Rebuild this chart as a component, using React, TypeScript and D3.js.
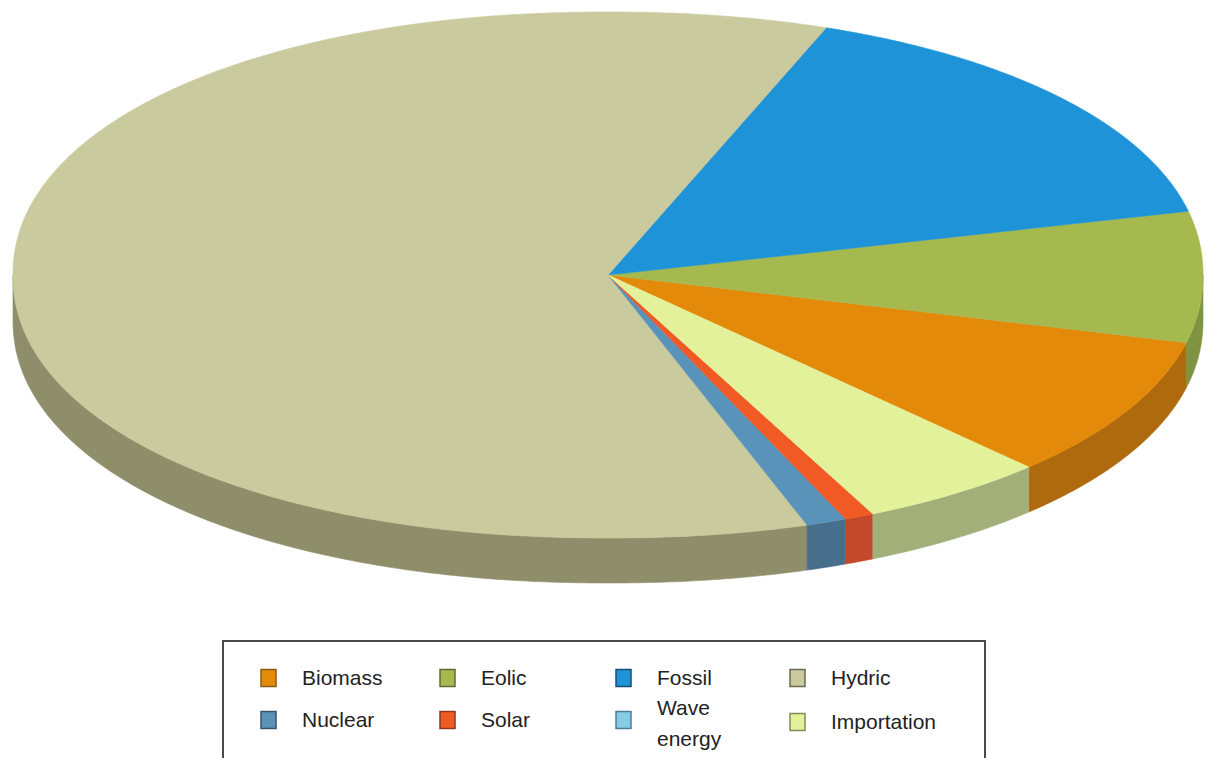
import React from "react";
import * as d3 from "d3";

const categories = ["Biomass", "Eolic", "Fossil", "Hydric", "Nuclear", "Solar", "Wave energy", "Importation"];
const shares = [8.9, 7.5, 15.7, 60.8, 1.1, 0.8, 0.0, 5.2];
const topColors = ["#E48A0A", "#A6B94E", "#1E93D7", "#C9CA9E", "#5A93B9", "#F15A24", "#86CDE4", "#E3F19A"];
const sideColors = ["#B06A0E", "#7F9342", "#1670A5", "#8E8E6A", "#476F8C", "#C4492A", "#5F9DB0", "#A3AF78"];
const swatchBorders = ["#8a5a1a", "#5f6b35", "#1a4f75", "#6b6b50", "#38536a", "#8a3a20", "#4f7f8f", "#7f8a55"];
const legendRows = [
  ["Biomass", "Eolic", "Fossil", "Hydric"],
  ["Nuclear", "Solar", "Wave energy", "Importation"],
];

const W = 1208;
const H = 758;
const cx = 608;
const cy = 275;
const rx = 595;
const ry = 263;
const depth = 45;
const shapeN = 2.1;
const deg = Math.PI / 180;

function pt(theta: number, dy = 0): [number, number] {
  const c = Math.cos(theta);
  const s = Math.sin(theta);
  const e = 2 / shapeN;
  return [cx + rx * Math.sign(c) * Math.pow(Math.abs(c), e), cy + dy + ry * Math.sign(s) * Math.pow(Math.abs(s), e)];
}

function arcPts(lo: number, hi: number, dy = 0): [number, number][] {
  const n = Math.max(2, Math.ceil((hi - lo) / (0.5 * deg)));
  return d3.range(n + 1).map((k) => pt(lo + ((hi - lo) * k) / n, dy));
}

const line = d3.line<[number, number]>();

export default function App() {
  // d3.pie angles: 0 at 12 o'clock, clockwise. Slices run counter-clockwise from the Biomass start.
  const start = (45.97 + 90) * deg;
  const pie = d3
    .pie<number>()
    .sort(null)
    .value((d) => d)
    .startAngle(start)
    .endAngle(start - 2 * Math.PI);
  const arcs = pie(shares);

  const slices = arcs.map((a, i) => {
    let lo = Math.min(a.startAngle, a.endAngle) - Math.PI / 2;
    const span = Math.abs(a.endAngle - a.startAngle);
    while (lo < 0) lo += 2 * Math.PI;
    while (lo >= 2 * Math.PI) lo -= 2 * Math.PI;
    const hi = lo + span;
    return { i, lo, hi, span };
  });

  const topPath = (lo: number, hi: number) => {
    const pts: [number, number][] = [[cx, cy], ...arcPts(lo, hi)];
    return line(pts) + "Z";
  };

  const sidePath = (lo: number, hi: number) => {
    const pts: [number, number][] = [...arcPts(lo, hi), ...arcPts(lo, hi, depth).reverse()];
    return line(pts) + "Z";
  };

  const sides: { i: number; lo: number; hi: number }[] = [];
  slices.forEach((s) => {
    if (s.span <= 0) return;
    for (const off of [0, 2 * Math.PI]) {
      const l = Math.max(s.lo, off);
      const h = Math.min(s.hi, off + Math.PI);
      if (h > l) sides.push({ i: s.i, lo: l, hi: h });
    }
  });

  const legendX = d3.scaleOrdinal<number, number>().domain([0, 1, 2, 3]).range([261, 440, 616, 790]);
  const rowY = [678, 720];

  return (
    <svg width={W} height={H} style={{ position: "absolute", left: 0, top: 0, background: "#fff" }}>
      <rect x={0} y={0} width={W} height={H} fill="#fff" />
      <g>
        {sides.map((s, k) => (
          <path key={"s" + k} d={sidePath(s.lo, s.hi)} fill={sideColors[s.i]} stroke={sideColors[s.i]} strokeWidth={0.6} />
        ))}
        {slices
          .filter((s) => s.span > 0)
          .map((s) => (
            <path key={"t" + s.i} d={topPath(s.lo, s.hi)} fill={topColors[s.i]} stroke={topColors[s.i]} strokeWidth={0.6} />
          ))}
      </g>
      <g>
        <rect x={223} y={641} width={762} height={130} fill="#fff" stroke="#4a4a4a" strokeWidth={2} />
        {legendRows.map((row, r) =>
          row.map((name, c) => {
            const i = categories.indexOf(name);
            const x = legendX(c);
            const yc = rowY[r] + (name === "Importation" ? 2 : 0);
            const lines = name === "Wave energy" ? ["Wave", "energy"] : [name];
            return (
              <g key={name}>
                <rect x={x} y={yc - 8.5} width={15} height={17} fill={topColors[i]} stroke={swatchBorders[i]} strokeWidth={1.5} />
                {lines.map((ln, j) => (
                  <text
                    key={ln}
                    x={x + 41}
                    y={lines.length > 1 ? yc - 12 + j * 31 : yc}
                    dy="0.35em"
                    fontFamily="'Liberation Sans', Arial, sans-serif"
                    fontSize={21}
                    fill="#222"
                  >
                    {ln}
                  </text>
                ))}
              </g>
            );
          })
        )}
      </g>
    </svg>
  );
}
